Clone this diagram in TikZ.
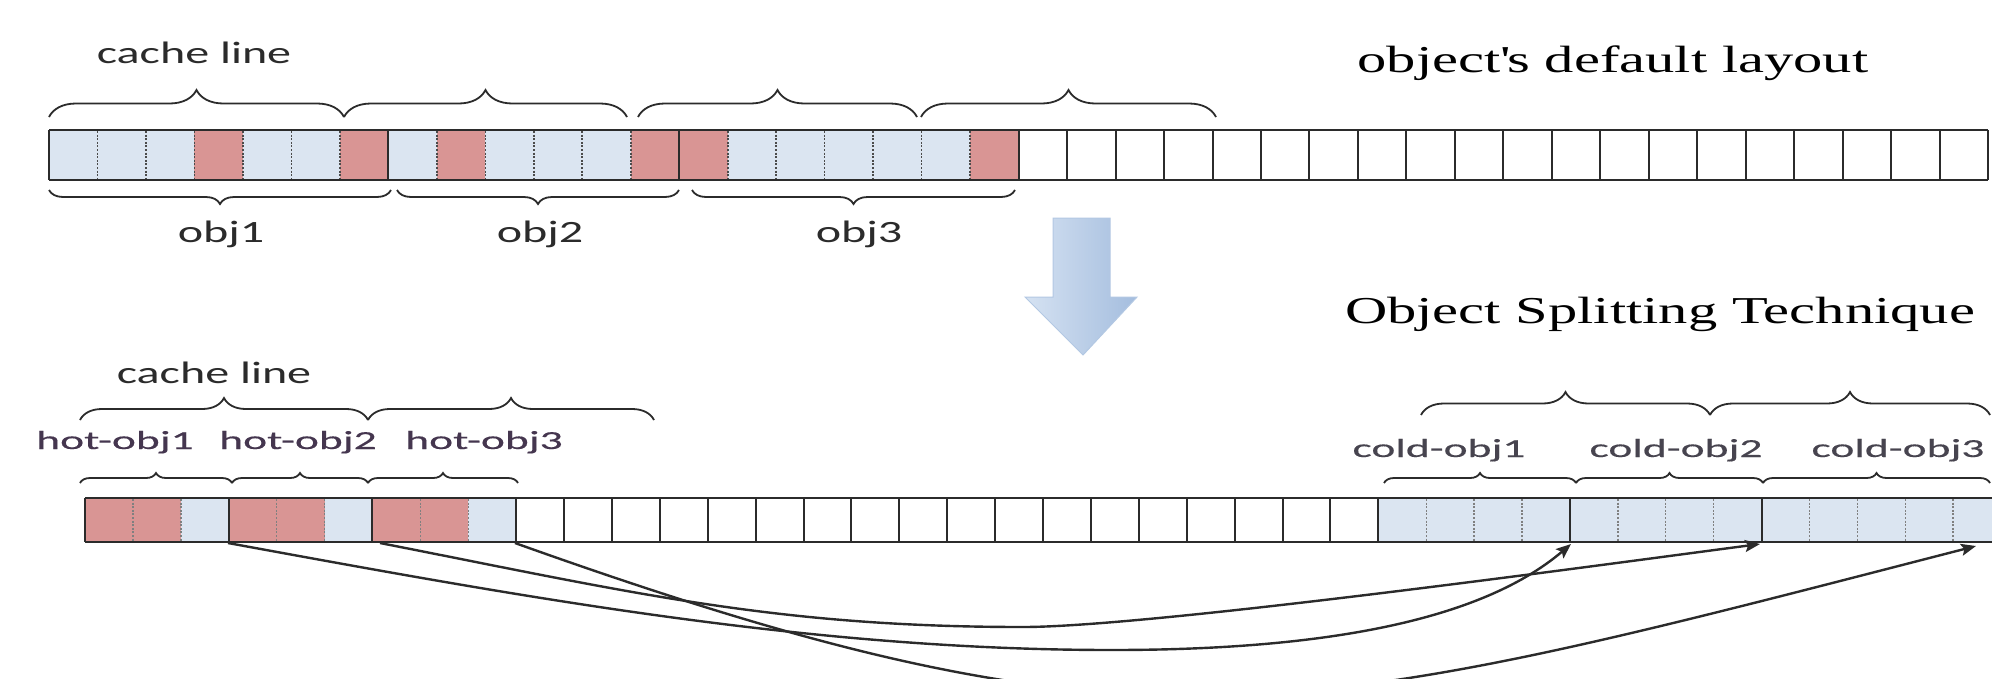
\documentclass[tikz,border=0pt]{standalone}
\usepackage{fontspec}
\usetikzlibrary{decorations.pathreplacing,arrows.meta,calc}
\newfontfamily\lblfont[FakeStretch=1.55]{Carlito}
\newfontfamily\objfont[FakeStretch=1.75,FakeBold=0.4]{Carlito}
\newfontfamily\ttlfont[FakeStretch=1.54]{Liberation Serif}
\definecolor{hotpink}{HTML}{D99594}
\definecolor{coldblue}{HTML}{DBE5F1}
\definecolor{ink}{HTML}{2B2B2B}
\definecolor{hotlbl}{HTML}{45364F}
\definecolor{coldlbl}{HTML}{47444F}
\definecolor{arrA}{HTML}{D5E2F2}
\definecolor{arrB}{HTML}{C6D7EC}
\definecolor{arrC}{HTML}{A4BDDE}
\definecolor{arrD}{HTML}{B3C8E3}
\tikzset{
  bracedec/.style={decorate,decoration={brace,amplitude=#1},draw=ink,line width=1.8pt},
  bracedecm/.style={decorate,decoration={brace,mirror,amplitude=#1},draw=ink,line width=1.8pt},
  barline/.style={draw=ink,line width=2pt},
  solidsep/.style={draw=ink,line width=2pt},
  dotsep/.style={draw=ink!85,line width=1.6pt,dash pattern=on 2pt off 1.6pt},
  dotsepb/.style={draw=ink!60,line width=1.4pt,dash pattern=on 2pt off 1.6pt},
  lbltop/.style={font=\lblfont\fontsize{31}{31}\selectfont,text=ink,inner sep=0pt},
  lblhot/.style={font=\objfont\fontsize{26}{26}\selectfont,text=hotlbl,inner sep=0pt},
  lblcold/.style={font=\objfont\fontsize{26}{26}\selectfont,text=coldlbl,inner sep=0pt},
  ttl/.style={font=\ttlfont\fontsize{38}{38}\selectfont,text=black,inner sep=0pt},
  link/.style={draw=ink,line width=2.4pt,-{Stealth[length=15pt,width=12pt,inset=3pt]}},
}
\begin{document}
\begin{tikzpicture}[x=1pt,y=-1pt]
\useasboundingbox (0,0) rectangle (1992,678);
\clip (0,0) rectangle (1992,678);
\fill[white] (0,0) rectangle (1992,678);

% ---------- top bar ----------
\foreach \i/\col in {0/coldblue,1/coldblue,2/coldblue,3/hotpink,4/coldblue,5/coldblue,6/hotpink,
  7/coldblue,8/hotpink,9/coldblue,10/coldblue,11/coldblue,12/hotpink,
  13/hotpink,14/coldblue,15/coldblue,16/coldblue,17/coldblue,18/coldblue,19/hotpink}
  \fill[\col] ({49+\i*48.48},130) rectangle ({49+(\i+1)*48.48},180);
\foreach \i in {1,2,3,4,5,6,8,9,10,11,12,14,15,16,17,18,19}
  \draw[dotsep] ({49+\i*48.48},131) -- ({49+\i*48.48},179);
\foreach \i in {0,7,13,20,21,...,40}
  \draw[solidsep] ({49+\i*48.48},130) -- ({49+\i*48.48},180);
\draw[barline] (49,130) -- (1988,130);
\draw[barline] (49,180) -- (1988,180);

% top braces
\draw[bracedec=27pt] (49,117) -- (344,117);
\draw[bracedec=27pt] (344,117) -- (627,117);
\draw[bracedec=27pt] (638,117) -- (917,117);
\draw[bracedec=27pt] (921,117) -- (1216,117);
\draw[bracedecm=14pt] (49,190) -- (391,190);
\draw[bracedecm=14pt] (397,190) -- (679,190);
\draw[bracedecm=14pt] (692,190) -- (1015,190);

\node[lbltop,anchor=base] (cl1) at (194,63) {cache line};
\node[lbltop,anchor=base] (o1) at (221,242) {obj1};
\node[lbltop,anchor=base] (o2) at (540,242) {obj2};
\node[lbltop,anchor=base] (o3) at (859,242) {obj3};
\node[ttl,anchor=base] (t1) at (1613,72) {object\textquotesingle s default layout};
\node[ttl,anchor=base] (t2) at (1660,323) {Object Splitting Technique};

% ---------- big arrow ----------
\path[draw=arrD,line width=1pt,left color=arrA,middle color=arrB,right color=arrC]
  (1053,218) -- (1110,218) -- (1110,297) -- (1137,297) -- (1083,355)
  -- (1025,297) -- (1053,297) -- cycle;

% ---------- bottom bar ----------
\foreach \i/\col in {0/hotpink,1/hotpink,2/coldblue,3/hotpink,4/hotpink,5/coldblue,6/hotpink,7/hotpink,8/coldblue}
  \fill[\col] ({85+\i*47.9},498) rectangle ({85+(\i+1)*47.9},542);
\fill[coldblue] ({85+27*47.9},498) rectangle (2010,542);
\foreach \i in {1,2,4,5,7,8,28,29,30,32,33,34,36,37,38,39,40}
  \draw[dotsepb] ({85+\i*47.9},499) -- ({85+\i*47.9},541);
\foreach \i in {0,3,6,9,10,...,27,31,35}
  \draw[solidsep] ({85+\i*47.9},498) -- ({85+\i*47.9},542);
\draw[barline] (85,498) -- (2010,498);
\draw[barline] (85,542) -- (2010,542);

% bottom braces
\draw[bracedec=22pt] (80,420) -- (368,420);
\draw[bracedec=22pt] (368,420) -- (654,420);
\draw[bracedec=10pt] (80,483) -- (232,483);
\draw[bracedec=10pt] (232,483) -- (368,483);
\draw[bracedec=10pt] (368,483) -- (518,483);
\draw[bracedec=23pt] (1421,415) -- (1710,415);
\draw[bracedec=23pt] (1710,415) -- (1990,415);
\draw[bracedec=10pt] (1384,483) -- (1576,483);
\draw[bracedec=10pt] (1576,483) -- (1763,483);
\draw[bracedec=10pt] (1763,483) -- (1990,483);

\node[lbltop,anchor=base] (cl2) at (214,383) {cache line};
\node[lblhot,anchor=base] (ho1) at (115,449) {hot-obj1};
\node[lblhot,anchor=base] (ho2) at (298,449) {hot-obj2};
\node[lblhot,anchor=base] (ho3) at (484,449) {hot-obj3};
\node[lblcold,anchor=base] (co1) at (1439,457) {cold-obj1};
\node[lblcold,anchor=base] (co2) at (1676,457) {cold-obj2};
\node[lblcold,anchor=base] (co3) at (1898,457) {cold-obj3};

% ---------- pointers ----------
\coordinate (h1) at (228,543);
\coordinate (h2) at (380,543);
\coordinate (h3) at (515,543);
\coordinate (c1) at (1571,544);
\coordinate (c2) at (1760,544);
\coordinate (c3) at (1976,546);
\coordinate (m1) at (1112,650);
\coordinate (m2) at (1023,627);
\draw[link] (h1) .. controls (528,598) and (812,650) .. (m1)
  .. controls (1312,650) and (1477,624) .. (c1);
\draw[link] (h2) .. controls (630,592) and (773,627) .. (m2)
  .. controls (1150,627) and (1600,565) .. (c2);
\draw[link] (h3) .. controls (1150,770) and (1300,720) .. (c3);
\end{tikzpicture}
\end{document}
